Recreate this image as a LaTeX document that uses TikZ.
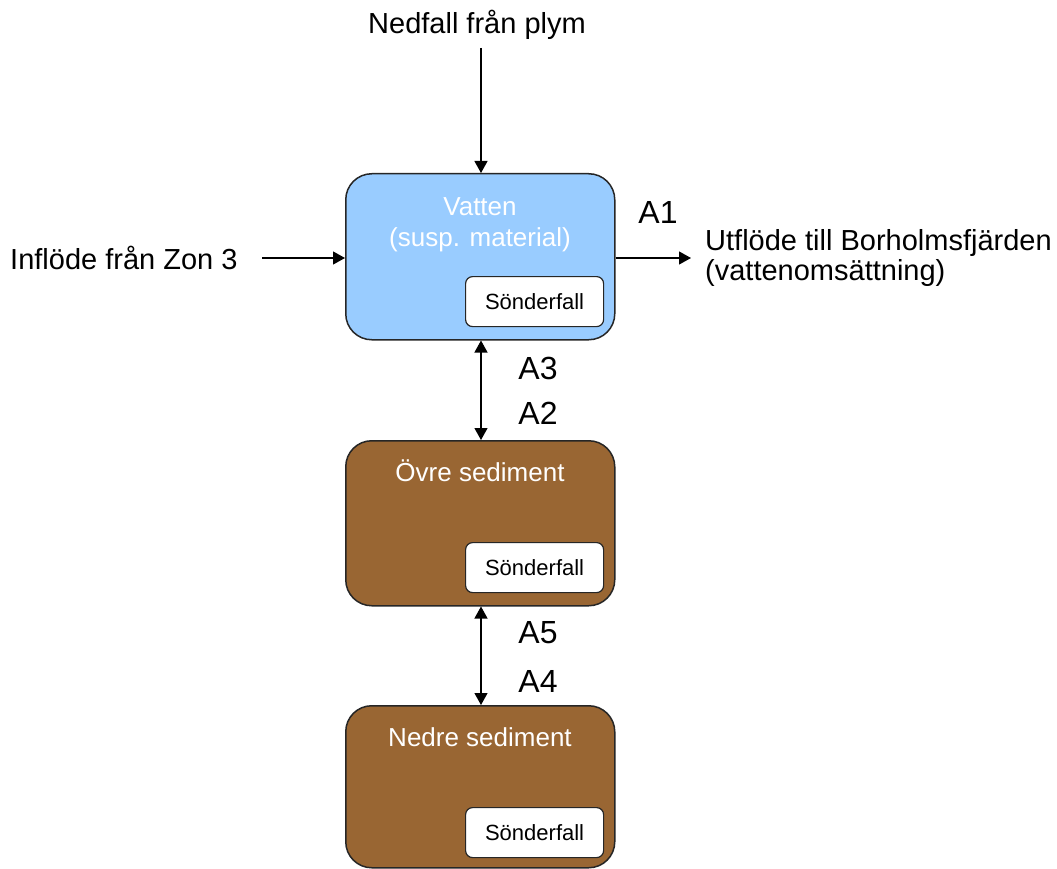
\documentclass[tikz,border=0pt]{standalone}
\usepackage{fontspec}
\setmainfont{Liberation Sans}
\usetikzlibrary{arrows.meta}
\definecolor{water}{HTML}{99CCFF}
\definecolor{sed}{HTML}{996633}
\tikzset{
  compbox/.style={draw=black!85, line width=1.5pt, rounded corners=26pt, minimum width=269pt, anchor=north west, inner sep=0pt},
  decaybox/.style={draw=black!85, fill=white, line width=1.2pt, rounded corners=7pt, minimum width=138pt, minimum height=50pt, anchor=north west, inner sep=0pt, font=\fontsize{22}{26}\selectfont},
  boxtitle/.style={text=white, font=\fontsize{26}{31}\selectfont, align=center, inner sep=0pt},
  lbl/.style={font=\fontsize{29}{30}\selectfont, inner sep=0pt},
  albl/.style={font=\fontsize{32}{34}\selectfont, inner sep=0pt},
  flow/.style={line width=1.2pt, -{Triangle[length=12pt,width=13pt]}},
  bflow/.style={line width=1.2pt, {Triangle[length=12pt,width=13pt]}-{Triangle[length=12pt,width=13pt]}}
}
\begin{document}
\begin{tikzpicture}[x=1pt,y=-1pt]
\useasboundingbox[fill=white] (0,0) rectangle (1057,869);
% boxes
\node[compbox, fill=water, minimum height=166pt] (vat) at (345,173) {};
\node[decaybox] (d1) at (465,276) {Sönderfall};
\node[boxtitle] (tvat) at (480,225) {Vatten\\(susp. material)};
\node[compbox, fill=sed, minimum height=165pt] (ovr) at (345,440) {};
\node[decaybox] (d2) at (465,542) {Sönderfall};
\node[boxtitle] (tovr) at (480,471) {Övre sediment};
\node[compbox, fill=sed, minimum height=162pt] (ned) at (345,705) {};
\node[decaybox] (d3) at (465,807) {Sönderfall};
\node[boxtitle] (tned) at (480,737) {Nedre sediment};
% external labels
\node[lbl] (nedf) at (477,25) {Nedfall från plym};
\node[lbl, anchor=west] (infl) at (10,258) {Inflöde från Zon 3};
\node[lbl, anchor=west, align=left] (utfl) at (705,258) {Utflöde till Borholmsfjärden\\(vattenomsättning)};
\coordinate (ntop) at (481,48);
\coordinate (lend) at (262,258);
\coordinate (rend) at (691,258);
% arrows
\draw[flow] (ntop) -- (vat.north -| ntop);
\draw[flow] (lend) -- (vat.west |- lend);
\draw[flow] (vat.east |- rend) -- (rend);
\draw[bflow] (vat.south -| ntop) -- (ovr.north -| ntop);
\draw[bflow] (ovr.south -| ntop) -- (ned.north -| ntop);
% flow labels
\node[albl] (a1) at (658,212) {A1};
\node[albl] (a3) at (538,368) {A3};
\node[albl] (a2) at (538,413) {A2};
\node[albl] (a5) at (538,633) {A5};
\node[albl] (a4) at (538,681) {A4};
\end{tikzpicture}
\end{document}
